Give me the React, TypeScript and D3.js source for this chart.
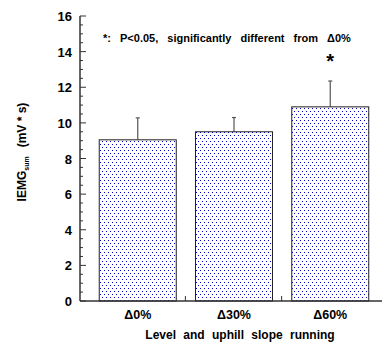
import React, { useEffect, useRef } from "react";
import * as d3 from "d3";

const categories = ["\u03940%", "\u039430%", "\u039460%"];
const means = [9.05, 9.5, 10.9];
const errors = [1.23, 0.8, 1.45];
const significant = [false, false, true];
const yTicks = [0, 2, 4, 6, 8, 10, 12, 14, 16];

const App = () => {
  const ref = useRef<SVGSVGElement>(null);

  useEffect(() => {
    const svg = d3.select(ref.current);
    svg.selectAll("*").remove();

    const left = 80, right = 388, top = 16, bottom = 301;
    const font = "'Liberation Sans', Arial, sans-serif";
    const axisColor = "#333";

    const x = d3.scaleBand().domain(categories).range([left, right]).padding(0.2);
    const y = d3.scaleLinear().domain([0, 16]).range([bottom, top]);

    // dotted fill
    const defs = svg.append("defs");
    const pat = defs.append("pattern")
      .attr("id", "dots")
      .attr("patternUnits", "userSpaceOnUse")
      .attr("width", 4).attr("height", 6);
    pat.append("rect").attr("width", 4).attr("height", 6).attr("fill", "#fff");
    pat.append("rect").attr("x", 0).attr("y", 0).attr("width", 1).attr("height", 1).attr("fill", "#0000c8");
    pat.append("rect").attr("x", 2).attr("y", 3).attr("width", 1).attr("height", 1).attr("fill", "#0000c8");

    const rows = categories.map((c, i) => ({ c, m: means[i], e: errors[i], s: significant[i] }));

    // error bars
    svg.selectAll(".err").data(rows).enter().append("line")
      .attr("x1", (d) => x(d.c)! + x.bandwidth() / 2)
      .attr("x2", (d) => x(d.c)! + x.bandwidth() / 2)
      .attr("y1", (d) => y(d.m))
      .attr("y2", (d) => y(d.m + d.e))
      .attr("stroke", "#555").attr("stroke-width", 1.2);
    svg.selectAll(".cap").data(rows).enter().append("line")
      .attr("x1", (d) => x(d.c)! + x.bandwidth() / 2 - 2)
      .attr("x2", (d) => x(d.c)! + x.bandwidth() / 2 + 2)
      .attr("y1", (d) => y(d.m + d.e))
      .attr("y2", (d) => y(d.m + d.e))
      .attr("stroke", "#555").attr("stroke-width", 1.2);

    // bars
    svg.selectAll(".bar").data(rows).enter().append("rect")
      .attr("x", (d) => x(d.c)!)
      .attr("y", (d) => y(d.m))
      .attr("width", x.bandwidth())
      .attr("height", (d) => y(0) - y(d.m))
      .attr("fill", "url(#dots)")
      .attr("stroke", "#222").attr("stroke-width", 1);

    // significance stars
    svg.selectAll(".star").data(rows.filter((d) => d.s)).enter().append("text")
      .attr("x", (d) => x(d.c)! + x.bandwidth() / 2)
      .attr("y", (d) => y(d.m + d.e) - 13)
      .attr("text-anchor", "middle")
      .style("font-family", font).style("font-size", "20px").style("font-weight", "bold")
      .text("*");

    // y axis
    svg.append("line").attr("x1", left).attr("x2", left).attr("y1", top).attr("y2", bottom)
      .attr("stroke", axisColor).attr("stroke-width", 1.5);
    svg.selectAll(".minor").data(d3.range(0, 16.01, 0.5)).enter().append("line")
      .attr("x1", left).attr("x2", (d) => left + (d % 2 === 0 ? 6 : 3))
      .attr("y1", (d) => y(d)).attr("y2", (d) => y(d))
      .attr("stroke", axisColor).attr("stroke-width", 1);
    svg.selectAll(".ylab").data(yTicks).enter().append("text")
      .attr("x", left - 8).attr("y", (d) => y(d) + 5)
      .attr("text-anchor", "end")
      .style("font-family", font).style("font-size", "13px").style("font-weight", "bold")
      .text((d) => d);

    // x axis
    svg.append("line").attr("x1", left).attr("x2", 382).attr("y1", bottom).attr("y2", bottom)
      .attr("stroke", axisColor).attr("stroke-width", 1.5);
    svg.selectAll(".xt").data(categories.slice(1)).enter().append("line")
      .attr("x1", (d) => x(d)! - x.step() * x.paddingInner() / 2 - 0.5)
      .attr("x2", (d) => x(d)! - x.step() * x.paddingInner() / 2 - 0.5)
      .attr("y1", bottom).attr("y2", bottom - 5)
      .attr("stroke", axisColor).attr("stroke-width", 1);
    svg.selectAll(".xlab").data(categories).enter().append("text")
      .attr("x", (d) => x(d)! + x.bandwidth() / 2).attr("y", 319)
      .attr("text-anchor", "middle")
      .style("font-family", font).style("font-size", "12.5px").style("font-weight", "bold")
      .text((d) => d);

    svg.append("text")
      .attr("x", 240).attr("y", 339)
      .attr("text-anchor", "middle")
      .style("font-family", font).style("font-size", "12px").style("font-weight", "bold")
      .style("word-spacing", "4px")
      .text("Level and uphill slope running");

    // y label
    const yl = svg.append("text")
      .attr("transform", "translate(26,152) rotate(-90)")
      .attr("text-anchor", "middle")
      .style("font-family", font).style("font-size", "12px").style("font-weight", "bold");
    yl.append("tspan").text("IEMG");
    yl.append("tspan").attr("dy", 3).style("font-size", "7px").text("sum");
    yl.append("tspan").attr("dy", -3).attr("dx", 9).text("(mV * s)");

    // note
    svg.append("text")
      .attr("x", 103).attr("y", 42)
      .style("font-family", font).style("font-size", "11px").style("font-weight", "bold")
      .style("word-spacing", "6px")
      .text("*: P<0.05, significantly different from \u03940%");
  }, []);

  return (
    <svg ref={ref} width={382} height={342}
      style={{ position: "absolute", left: 0, top: 0, background: "#fff" }} />
  );
};

export default App;
